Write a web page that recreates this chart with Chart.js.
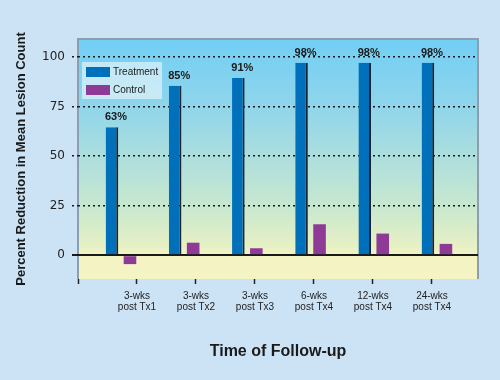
<!DOCTYPE html>
<html>
<head>
<meta charset="utf-8">
<script src="https://cdn.jsdelivr.net/npm/chart.js@4/dist/chart.umd.min.js"></script>
<style>
  html, body { margin: 0; padding: 0; background: #cce3f6; }
  #wrap { width: 500px; height: 380px; }
</style>
</head>
<body>
<div id="wrap"><canvas id="chart" width="500" height="380"></canvas></div>
<script>
// categories (x tick labels), one entry per follow-up time
const categories = [
    ['3-wks', 'post Tx1'],
    ['3-wks', 'post Tx2'],
    ['3-wks', 'post Tx3'],
    ['6-wks', 'post Tx4'],
    ['12-wks', 'post Tx4'],
    ['24-wks', 'post Tx4']
];
// series values
const treatment = [64.5, 85.4, 89.3, 97, 97, 97];
const control = [-4.5, 6.3, 3.5, 15.6, 10.9, 5.7];
// printed labels above the treatment bars
const pctLabels = ['63%', '85%', '91%', '98%', '98%', '98%'];
const yTicks = [0, 25, 50, 75, 100];

const ctx = document.getElementById('chart').getContext('2d');

// plot background gradient + frame, then value labels and legend box
const backdrop = {
    id: 'backdrop',
    beforeDraw(chart) {
        const { ctx, chartArea: a } = chart;
        const g = ctx.createLinearGradient(0, a.top, 0, a.bottom);
        g.addColorStop(0, '#72cff5');
        g.addColorStop(0.28, '#8fd5eb');
        g.addColorStop(0.5, '#aedfdd');
        g.addColorStop(0.7, '#c8e8cf');
        g.addColorStop(0.86, '#e6f0c4');
        g.addColorStop(0.9, '#f3f3c3');
        g.addColorStop(1, '#f4f4c4');
        ctx.save();
        ctx.fillStyle = g;
        ctx.fillRect(a.left, a.top, a.right - a.left, a.bottom - a.top);
        ctx.strokeStyle = '#8d9eae';
        ctx.lineWidth = 2;
        ctx.beginPath();
        ctx.moveTo(a.left, a.bottom);
        ctx.lineTo(a.left, a.top);
        ctx.lineTo(a.right, a.top);
        ctx.lineTo(a.right, a.bottom);
        ctx.stroke();
        ctx.restore();
    },
    afterDatasetsDraw(chart) {
        const { ctx, chartArea: a } = chart;
        ctx.save();
        // value labels
        ctx.font = 'bold 11px "Liberation Sans", Arial, sans-serif';
        ctx.fillStyle = '#1a1a1a';
        ctx.textAlign = 'center';
        ctx.textBaseline = 'middle';
        chart.getDatasetMeta(0).data.forEach((bar, i) => {
            ctx.fillText(pctLabels[i], bar.x + 4, bar.y - 10);
        });
        // legend
        const lx = a.left + 4, ly = a.top + 23;
        ctx.fillStyle = 'rgba(232,246,250,0.65)';
        ctx.fillRect(lx, ly, 80, 37);
        ctx.font = '10px "Liberation Sans", Arial, sans-serif';
        ctx.textAlign = 'left';
        chart.data.datasets.forEach((ds, i) => {
            const y = ly + 10 + i * 18;
            ctx.fillStyle = ds.backgroundColor;
            ctx.fillRect(lx + 4, y - 5, 24, 10);
            ctx.fillStyle = '#1a1a1a';
            ctx.fillText(ds.label, lx + 31, y);
        });
        ctx.restore();
    }
};

const chart = new Chart(ctx, {
    type: 'bar',
    data: {
        datasets: [{
            label: 'Treatment',
            data: treatment.map((v, i) => ({ x: i + 1, y: v })),
            backgroundColor: '#0070bb',
            borderColor: '#1b2430',
            borderWidth: { top: 0, left: 0, bottom: 0, right: 2 },
            borderSkipped: false
        }, {
            label: 'Control',
            data: control.map((v, i) => ({ x: i + 1, y: v })),
            backgroundColor: '#8e3b98'
        }]
    },
    plugins: [backdrop],
    options: {
        responsive: false,
        animation: false,
        categoryPercentage: 0.57,
        barPercentage: 0.7,
        layout: { padding: { top: 39, right: 22, left: 0, bottom: 0 } },
        plugins: {
            legend: { display: false },
            tooltip: { enabled: false }
        },
        scales: {
            // axis the bars sit on
            x: {
                type: 'linear',
                min: 0.32,
                max: 6.65,
                offset: false,
                grid: { offset: false },
                afterBuildTicks: (s) => { s.ticks = categories.map((c, i) => ({ value: i + 1 })); },
                display: false
            },
            // axis that carries the tick labels
            x2: {
                type: 'linear',
                position: 'bottom',
                min: 0,
                max: 6.78,
                offset: false,
                afterBuildTicks: (s) => { s.ticks = [0, 1, 2, 3, 4, 5, 6].map(v => ({ value: v })); },
                afterFit: (s) => { s.height = 101; },
                grid: {
                    offset: false,
                    drawOnChartArea: false,
                    tickLength: 5,
                    tickColor: '#222',
                    tickWidth: 1.5
                },
                border: { display: false },
                ticks: {
                    padding: 6,
                    color: '#222',
                    maxRotation: 0,
                    autoSkip: false,
                    font: { family: '"Liberation Sans", Arial, sans-serif', size: 10, lineHeight: 1.15 },
                    callback: (v) => v === 0 ? '' : categories[v - 1]
                },
                title: {
                    display: true,
                    text: 'Time of Follow-up',
                    color: '#1a1a1a',
                    padding: { top: 0, bottom: 19 },
                    font: { family: '"Liberation Sans", Arial, sans-serif', size: 16, weight: 'bold' }
                }
            },
            y: {
                min: -12,
                max: 109,
                afterBuildTicks: (s) => { s.ticks = yTicks.map(v => ({ value: v })); },
                afterFit: (s) => { s.width = 78; },
                grid: {
                    color: '#1a1a1a',
                    lineWidth: (c) => c.tick && c.tick.value === 0 ? 2 : 1.6,
                    tickLength: 6,
                    tickBorderDash: (c) => c.tick && c.tick.value === 0 ? [] : [2, 3]
                },
                border: {
                    display: false,
                    dash: (c) => c.tick && c.tick.value === 0 ? [] : [2, 3]
                },
                ticks: {
                    padding: 7,
                    color: '#222',
                    font: { family: '"DejaVu Sans", sans-serif', size: 12 }
                },
                title: {
                    display: true,
                    text: 'Percent Reduction in Mean Lesion Count',
                    color: '#1a1a1a',
                    padding: { top: 14, bottom: 0 },
                    font: { family: '"Liberation Sans", Arial, sans-serif', size: 13, weight: 'bold' }
                }
            }
        }
    }
});
</script>
</body>
</html>
